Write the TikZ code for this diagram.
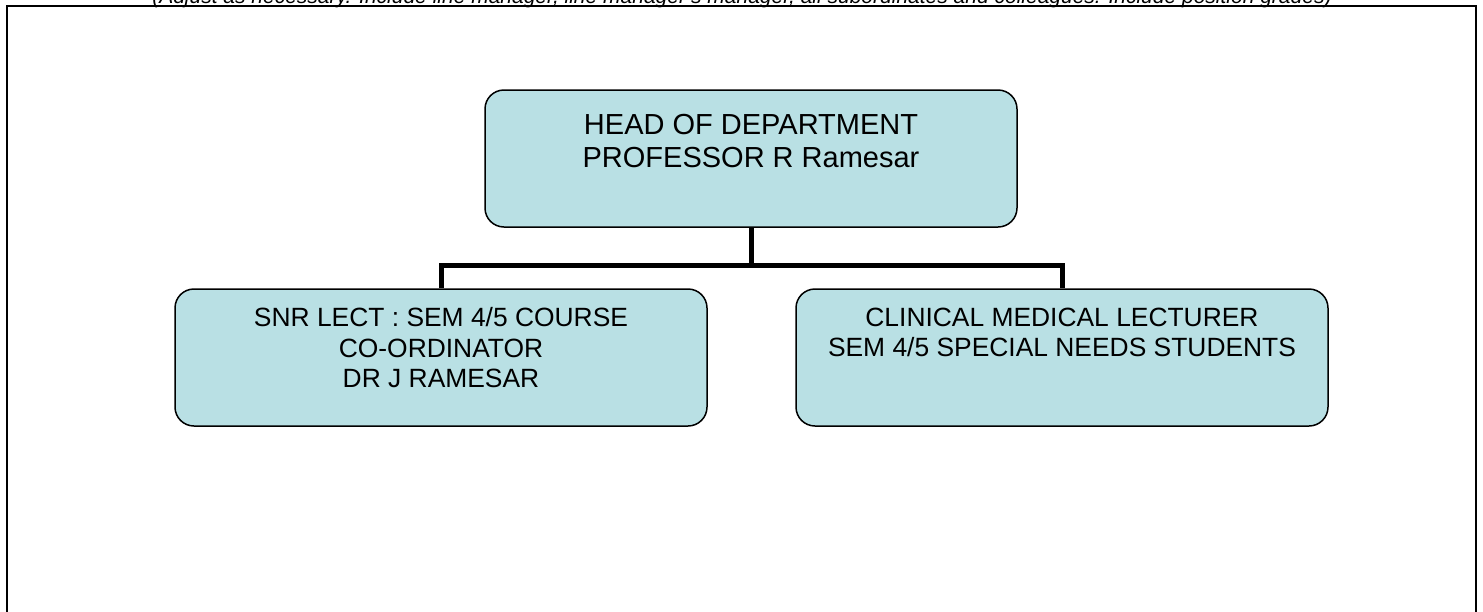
\documentclass[tikz,border=0pt]{standalone}
\usepackage{fontspec}
\setmainfont{Liberation Sans}
\definecolor{boxfill}{RGB}{185,224,228}
\begin{document}
\begin{tikzpicture}[
      x=1pt, y=-1pt,
      box/.style={draw=black, line width=1.5pt, fill=boxfill, rounded corners=19pt,
        minimum width=532pt, minimum height=137pt, inner sep=0pt},
      boxtext/.style={anchor=north, yshift=-16pt, align=center,
        font=\fontsize{26.4}{30.4}\selectfont},
      headtext/.style={boxtext, yshift=-5pt, font=\fontsize{29}{33.5}\selectfont},
      link/.style={line width=5pt, draw=black},
      frame/.style={line width=2pt, draw=black}
    ]
      \useasboundingbox (0,0) rectangle (1483,611);

      % note above the frame, cut off by the page edge
      \node[anchor=base, font=\fontsize{21}{24}\selectfont\itshape] (note) at (742,3)
        {(Adjust as necessary. Include line manager, line manager's manager, all subordinates and colleagues. Include position grades)};
      \draw[frame] (7,630) -- (7,6) -- (1476,6) -- (1476,630);

      \node[box, label={[headtext]north:HEAD OF DEPARTMENT\\PROFESSOR R Ramesar}]
        (head) at (751,158.5) {};
      \node[box, label={[boxtext]north:SNR LECT : SEM 4/5 COURSE\\CO-ORDINATOR\\DR J RAMESAR}]
        (snr) at (441,357.5) {};
      \node[box, label={[boxtext]north:CLINICAL MEDICAL LECTURER\\SEM 4/5 SPECIAL NEEDS STUDENTS}]
        (cml) at (1062,357.5) {};

      \coordinate (junc) at (0,265);
      \draw[link] (head.south) -- (head.south |- junc);
      \draw[link] (snr.north) -- (snr.north |- junc) -- (cml.north |- junc) -- (cml.north);
    \end{tikzpicture}
\end{document}
